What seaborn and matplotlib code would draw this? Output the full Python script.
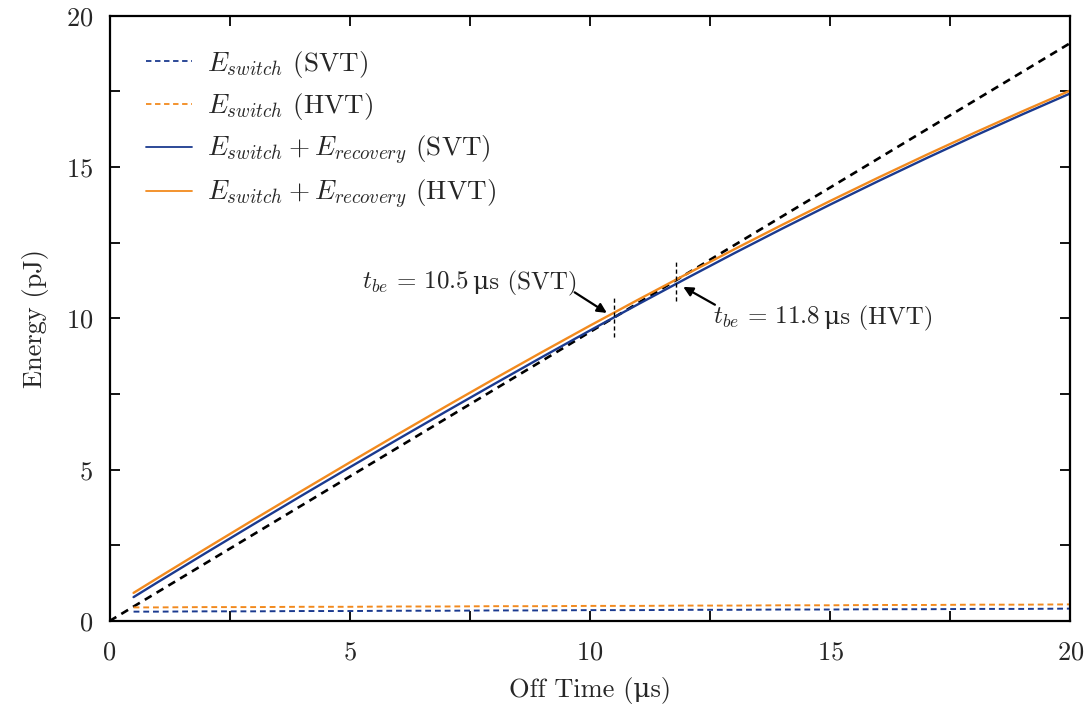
import matplotlib
matplotlib.use("Agg")
import matplotlib.pyplot as plt
from matplotlib.ticker import MultipleLocator
from matplotlib.offsetbox import TextArea, HPacker, AnnotationBbox
import pandas as pd
import seaborn as sns

# Off time samples (µs)
off_time = [0.5, 1, 2, 3, 4, 5, 6, 7, 8, 9, 10, 11, 12, 13, 14, 15, 16, 17, 18, 19, 20]

# Switching energy only (pJ)
e_switch_svt = [0.31, 0.31, 0.32, 0.32, 0.33, 0.33, 0.34, 0.34, 0.35, 0.35, 0.36,
                0.36, 0.37, 0.37, 0.38, 0.38, 0.39, 0.39, 0.40, 0.40, 0.41]
e_switch_hvt = [0.45, 0.45, 0.46, 0.46, 0.47, 0.47, 0.48, 0.48, 0.49, 0.49, 0.50,
                0.50, 0.51, 0.51, 0.52, 0.52, 0.53, 0.53, 0.54, 0.54, 0.55]

# Switching + recovery energy (pJ)
e_total_svt = [0.79, 1.28, 2.245, 3.20, 4.145, 5.08, 6.005, 6.92, 7.825, 8.72, 9.60,
               10.465, 11.315, 12.15, 12.965, 13.76, 14.535, 15.29, 16.025, 16.74, 17.435]
e_total_hvt = [0.93, 1.42, 2.39, 3.35, 4.30, 5.24, 6.17, 7.09, 7.995, 8.885, 9.76,
               10.615, 11.455, 12.28, 13.09, 13.88, 14.65, 15.40, 16.13, 16.84, 17.53]

# Energy of staying powered on (pJ)
on_time = [0, 20]
e_on = [0.0, 19.1]

# Break-even points
t_be_svt = 10.5
t_be_hvt = 11.8
e_be_svt = 10.03
e_be_hvt = 11.27

NAVY = "#1b3a8f"
ORANGE = "#f28a1e"
FS = 19

sns.set_theme(style="ticks")
plt.rcParams["font.family"] = ["cmr10", "DejaVu Serif"]
plt.rcParams["mathtext.fontset"] = "cm"
plt.rcParams["axes.formatter.use_mathtext"] = True
plt.rcParams["axes.unicode_minus"] = False

df_sw = pd.DataFrame({"t": off_time, "svt": e_switch_svt, "hvt": e_switch_hvt})
df_tot = pd.DataFrame({"t": off_time, "svt": e_total_svt, "hvt": e_total_hvt})
df_on = pd.DataFrame({"t": on_time, "e": e_on})

fig = plt.figure(figsize=(10.91, 7.13), dpi=100)
ax = fig.add_axes([0.1004, 0.129, 0.8808, 0.849])

sns.lineplot(data=df_on, x="t", y="e", ax=ax, color="black", lw=1.9,
             linestyle=(0, (3, 2.2)))
sns.lineplot(data=df_sw, x="t", y="svt", ax=ax, color=NAVY, lw=1.4,
             linestyle=(0, (3, 2)), label=r"$E_{switch}$ (SVT)")
sns.lineplot(data=df_sw, x="t", y="hvt", ax=ax, color=ORANGE, lw=1.4,
             linestyle=(0, (3, 2)), label=r"$E_{switch}$ (HVT)")
sns.lineplot(data=df_tot, x="t", y="svt", ax=ax, color=NAVY, lw=1.7,
             label=r"$E_{switch} + E_{recovery}$ (SVT)")
sns.lineplot(data=df_tot, x="t", y="hvt", ax=ax, color=ORANGE, lw=1.7,
             label=r"$E_{switch} + E_{recovery}$ (HVT)")

# Break-even markers
ax.vlines(t_be_svt, e_be_svt - 0.65, e_be_svt + 0.7, colors="black",
          linestyles=(0, (3, 2)), lw=1.0)
ax.vlines(t_be_hvt, e_be_hvt - 0.7, e_be_hvt + 0.6, colors="black",
          linestyles=(0, (3, 2)), lw=1.0)


def be_label(x, y, value, tech):
    """Break-even label: math part plus an upright micro-second unit."""
    parts = [TextArea(r"$t_{be}\, =\, %s$" % value, textprops=dict(fontsize=18)),
             TextArea("μs (%s)" % tech, textprops=dict(fontsize=18))]
    box = HPacker(children=parts, align="baseline", pad=0, sep=3)
    ab = AnnotationBbox(box, (x, y), xycoords="data", box_alignment=(0, 0.5),
                        frameon=False, pad=0)
    ax.add_artist(ab)


arrow_kw = dict(arrowstyle="-|>", color="black", lw=1.6,
                shrinkA=0, shrinkB=0, mutation_scale=14)
be_label(5.25, 11.17, "10.5", "SVT")
ax.annotate("", xy=(10.35, 10.18), xytext=(9.68, 10.86), arrowprops=arrow_kw)
be_label(12.55, 10.02, "11.8", "HVT")
ax.annotate("", xy=(11.94, 11.04), xytext=(12.6, 10.45), arrowprops=arrow_kw)

ax.set_xlim(0, 20)
ax.set_ylim(0, 20)
ax.xaxis.set_major_locator(MultipleLocator(5))
ax.yaxis.set_major_locator(MultipleLocator(5))
ax.xaxis.set_minor_locator(MultipleLocator(2.5))
ax.yaxis.set_minor_locator(MultipleLocator(2.5))
ax.tick_params(which="both", direction="in", top=True, right=True,
               length=7, width=1.3, labelsize=FS, color="black")
ax.tick_params(axis="x", pad=14)
ax.tick_params(axis="y", pad=12)
for s in ax.spines.values():
    s.set_linewidth(1.6)
    s.set_color("black")

ax.set_xlabel("Off Time (μs)", fontsize=FS, labelpad=9)
ax.set_ylabel("Energy (pJ)", fontsize=FS, labelpad=12)

leg = ax.legend(loc="upper left", frameon=False, fontsize=19.5, handlelength=1.7,
                handletextpad=0.55, labelspacing=0.42, borderaxespad=0.6,
                bbox_to_anchor=(0.01, 0.99))
for h in leg.get_lines():
    h.set_linewidth(1.3)

fig.savefig("out.png", dpi=100, facecolor="white")
